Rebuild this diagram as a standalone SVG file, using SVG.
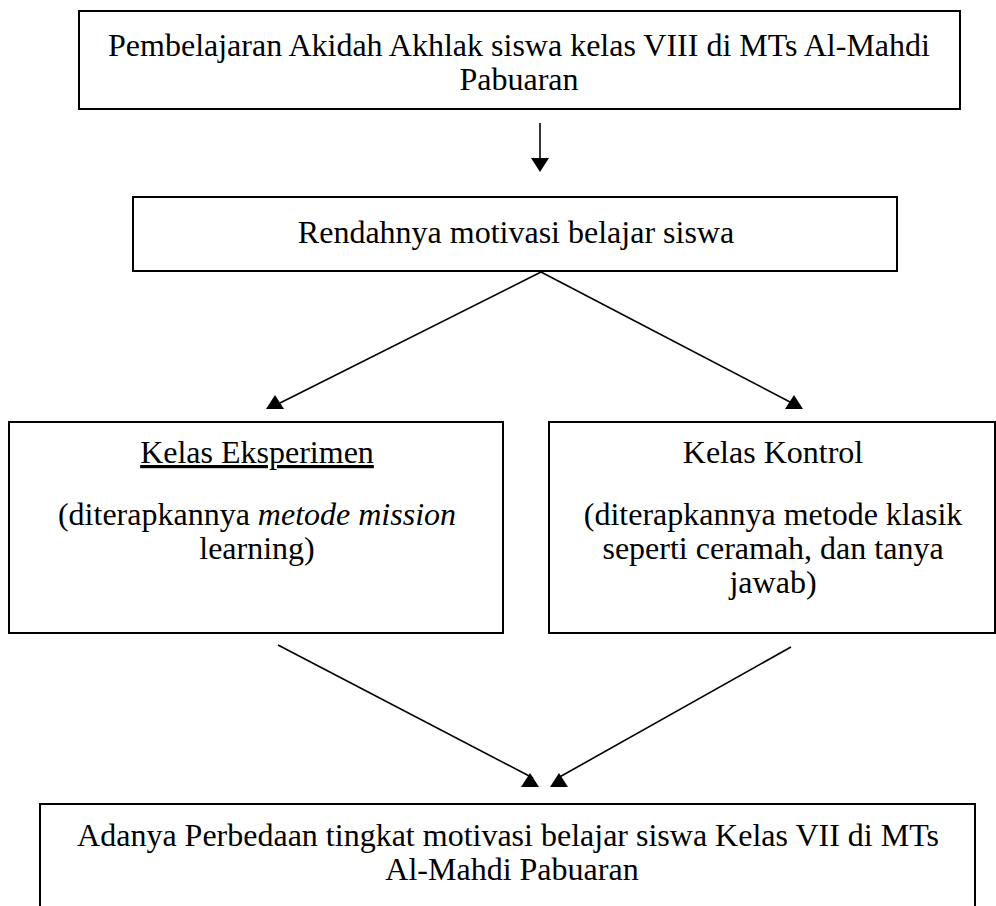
<svg xmlns="http://www.w3.org/2000/svg" xmlns:xlink="http://www.w3.org/1999/xlink" width="996" height="906" viewBox="0 0 996 906">
<style>
  .box { fill: #ffffff; stroke: #000000; stroke-width: 2; }
  .t { font-family: "Liberation Serif", "Times New Roman", serif; font-size: 32px; fill: #000000; text-anchor: middle; }
  .edge { stroke: #000000; stroke-width: 1.6; fill: none; }
  .head { fill: #000000; stroke: none; }
</style>
<defs>
  <path id="tri-up" class="head" d="M0,-14 L9,0 L-9,0 Z"/>
</defs>
<rect width="996" height="906" fill="#ffffff"/>

<g id="node-pembelajaran">
  <rect class="box" x="79" y="11" width="881" height="98"/>
  <text class="t" x="519" y="56">Pembelajaran Akidah Akhlak siswa kelas VIII di MTs Al-Mahdi</text>
  <text class="t" x="519" y="90">Pabuaran</text>
</g>

<g id="node-rendahnya">
  <rect class="box" x="133" y="197" width="764" height="74"/>
  <text class="t" x="516" y="243">Rendahnya motivasi belajar siswa</text>
</g>

<g id="node-eksperimen">
  <rect class="box" x="9" y="422" width="494" height="211"/>
  <text class="t" x="257" y="463" text-decoration="underline">Kelas Eksperimen</text>
  <text class="t" x="257" y="525">(diterapkannya <tspan font-style="italic">metode mission</tspan></text>
  <text class="t" x="257" y="559">learning)</text>
</g>

<g id="node-kontrol">
  <rect class="box" x="549" y="422" width="446" height="211"/>
  <text class="t" x="773" y="463">Kelas Kontrol</text>
  <text class="t" x="773" y="525">(diterapkannya metode klasik</text>
  <text class="t" x="773" y="559">seperti ceramah, dan tanya</text>
  <text class="t" x="773" y="593">jawab)</text>
</g>

<g id="node-perbedaan">
  <rect class="box" x="40" y="804" width="935" height="130"/>
  <text class="t" x="508" y="846">Adanya Perbedaan tingkat motivasi belajar siswa Kelas VII di MTs</text>
  <text class="t" x="512" y="880">Al-Mahdi Pabuaran</text>
</g>

<g id="connectors">
  <line class="edge" x1="540" y1="123" x2="540" y2="160"/>
  <use xlink:href="#tri-up" transform="translate(540,158) rotate(180)"/>

  <line class="edge" x1="541" y1="272" x2="280" y2="403"/>
  <use xlink:href="#tri-up" x="275" y="409"/>

  <line class="edge" x1="541" y1="272" x2="790" y2="402"/>
  <use xlink:href="#tri-up" x="794" y="409"/>

  <line class="edge" x1="278" y1="645" x2="533" y2="778"/>
  <use xlink:href="#tri-up" x="530" y="787"/>

  <line class="edge" x1="791" y1="647" x2="556" y2="779"/>
  <use xlink:href="#tri-up" x="559" y="787"/>
</g>
</svg>
